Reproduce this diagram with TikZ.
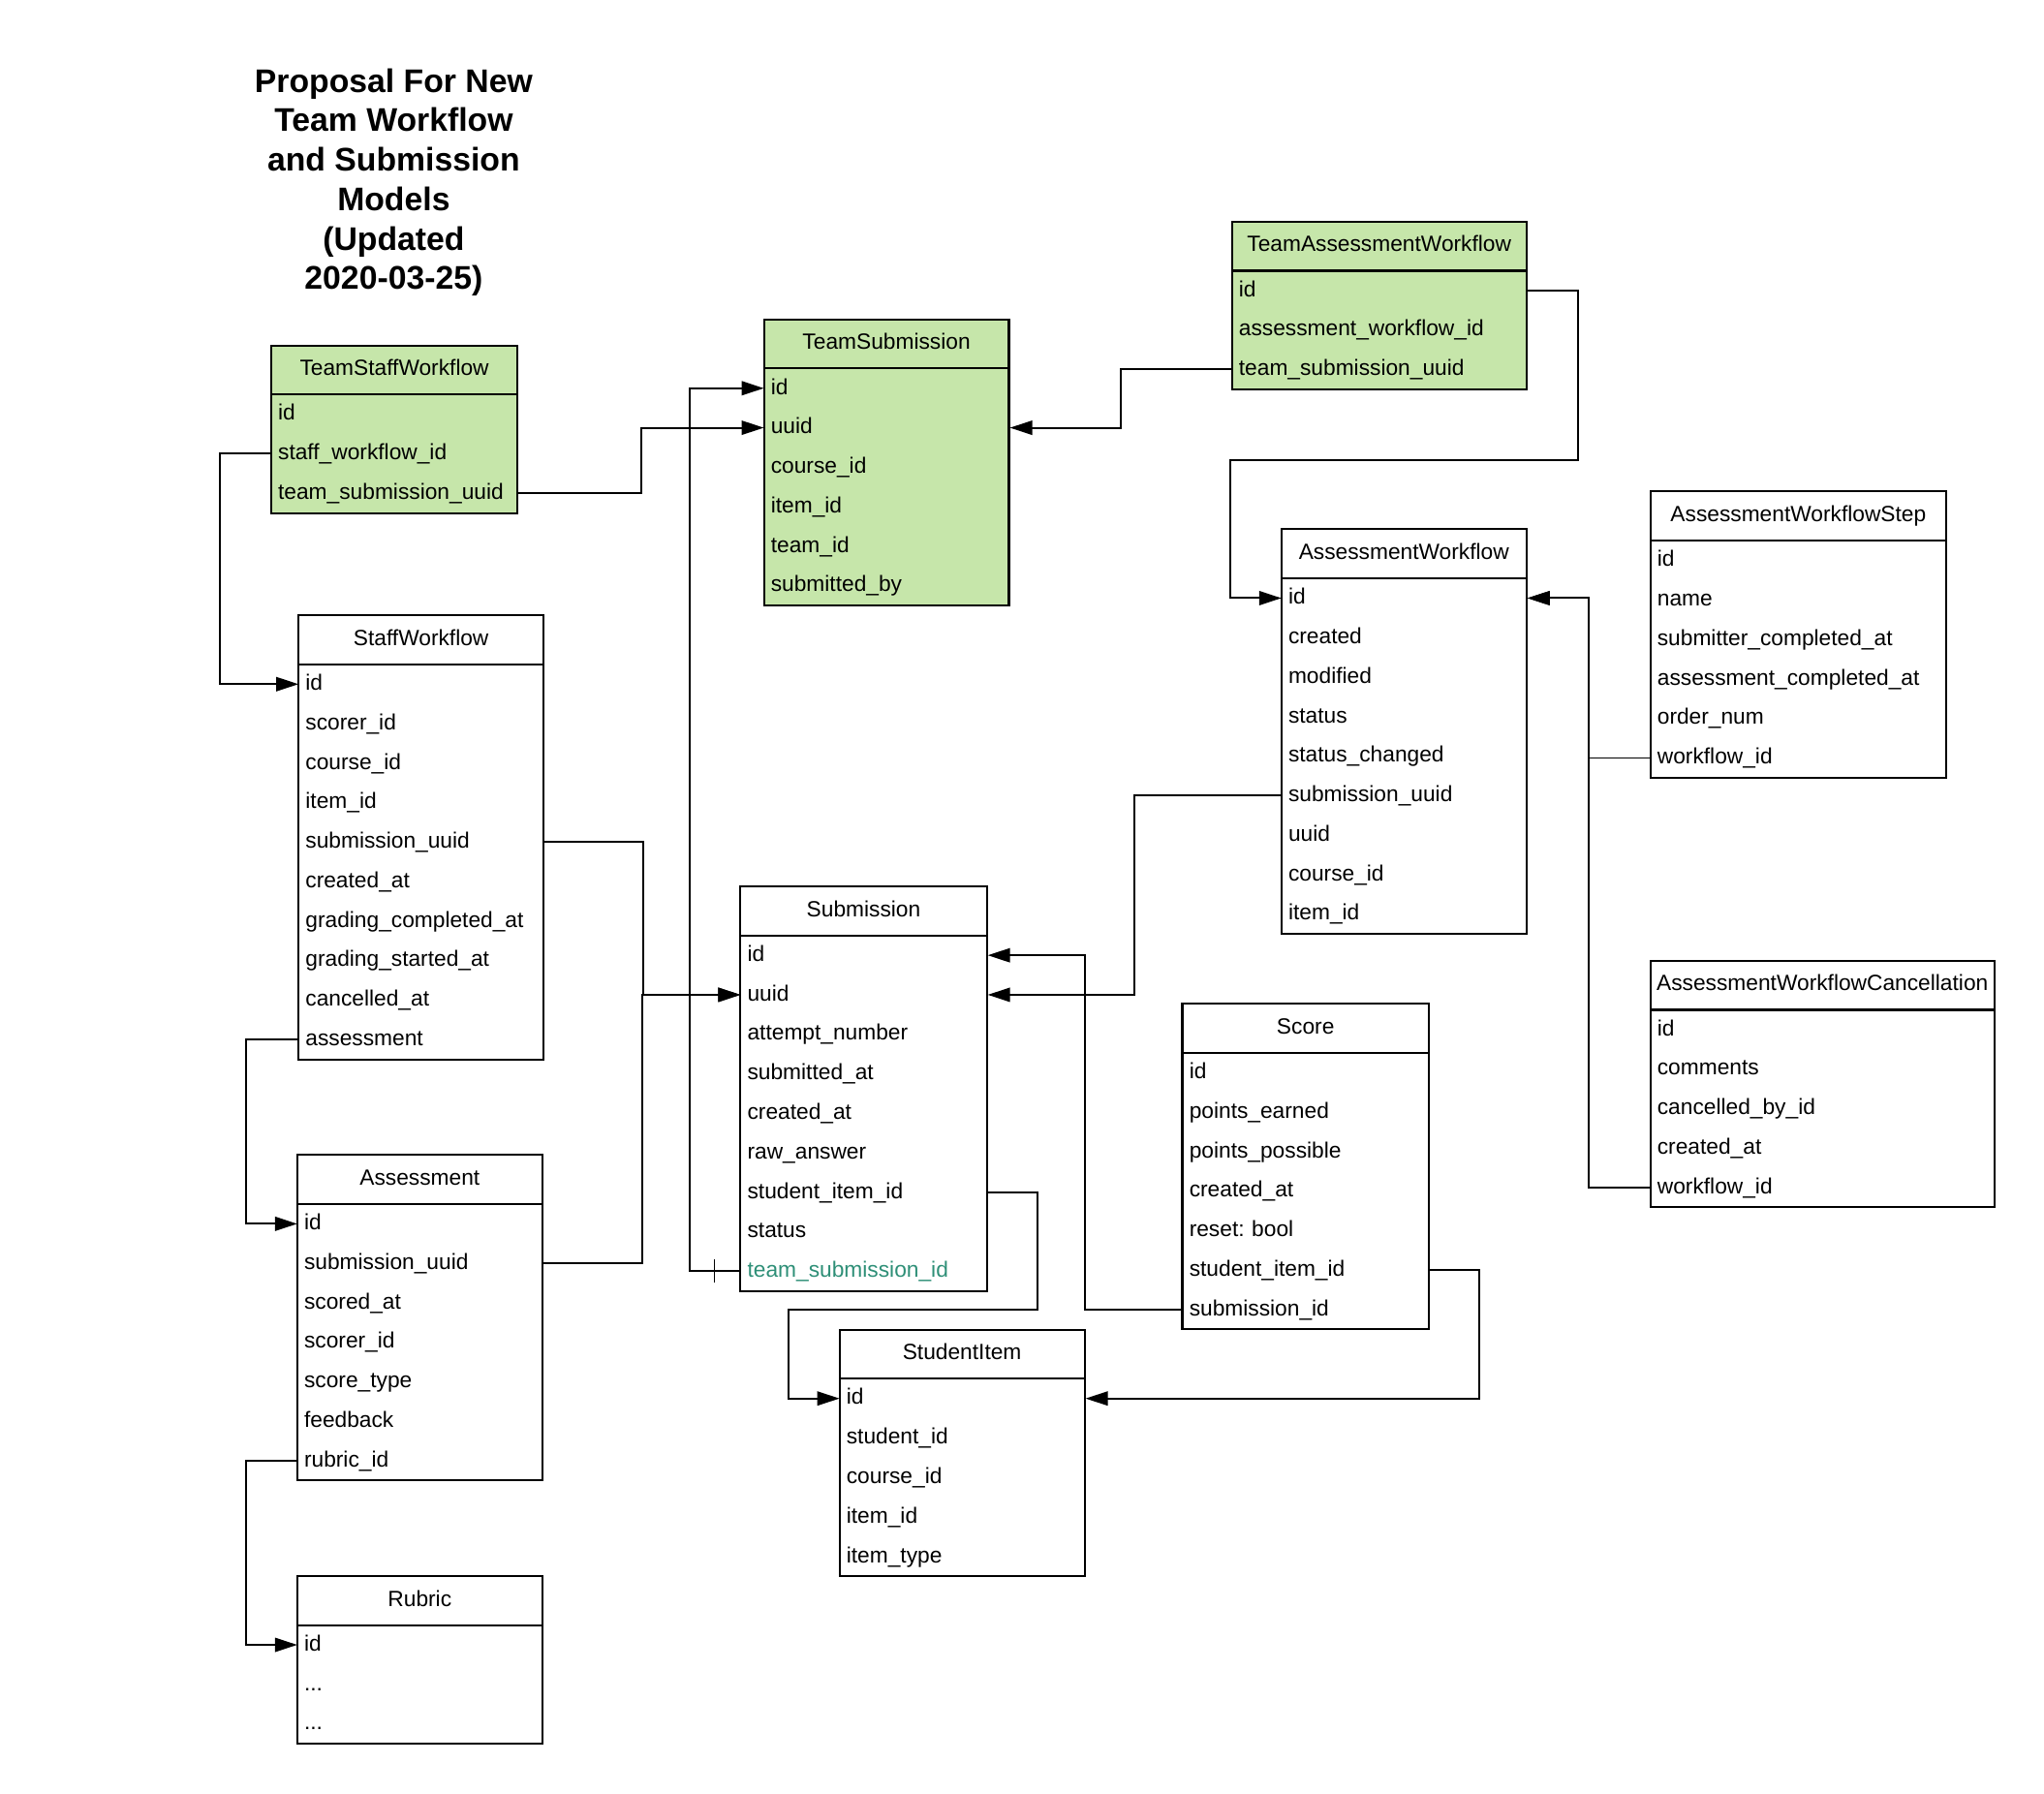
\documentclass[tikz,border=0pt]{standalone}
\usepackage{fontspec}
\setmainfont{Liberation Sans}
\frenchspacing
\usetikzlibrary{arrows.meta,calc}
\definecolor{tgreen}{HTML}{C6E6AA}
\definecolor{tealtxt}{HTML}{2E8F77}
\tikzset{
  boxline/.style={line width=0.85pt},
  hdrtext/.style={font=\fontsize{9.1}{11}\selectfont, inner sep=0pt, text height=0.72em, text depth=0.22em},
  rowtext/.style={font=\fontsize{9.1}{11}\selectfont, align=left, inner xsep=2.69pt, inner ysep=0pt, minimum height=16.31pt, text height=0.72em, text depth=0.22em},
  conn/.style={line width=0.8pt, -{Triangle[length=9.2pt,width=5.8pt]}},
  thinconn/.style={line width=0.5pt, -{Triangle[length=9.2pt,width=5.8pt]}},
  titletext/.style={font=\fontsize{13.5}{16.3}\selectfont\bfseries, align=center, inner sep=0pt},
  tickmark/.style={line width=0.6pt},
}
% #1 name, #2 x, #3 y, #4 width, #5 fill, #6 header, #7 rows, #8 number of rows
\newcommand\erbox[8]{%
  \draw[boxline, fill=#5] (#2,#3) rectangle ++(#4,37.7+#8*30.3);
  \draw[boxline] (#2,#3+37.7) -- ++(#4,0);
  \node[hdrtext] (#1) at (#2+#4/2,#3+18.5) {#6};
  \pgfmathsetlengthmacro\rowtw{(#4-10)*0.5383pt}%
  \foreach \t [count=\i] in {#7} {
    \node[rowtext, text width=\rowtw, anchor=west] (#1-\i) at (#2,#3+37.7+15.15+\i*30.3-30.3) {\t};
  }
}
\begin{document}
\begin{tikzpicture}[x=0.5383pt, y=-0.5383pt]
\fill[white] (0,0) rectangle (1568,1376);
\useasboundingbox (0,0) rectangle (1568,1376);

\node[titletext] (title) at (302,140) {Proposal For New\\Team Workflow\\and Submission\\Models\\(Updated\\2020-03-25)};

\erbox{tsw}{208}{265}{189}{tgreen}{TeamStaffWorkflow}{id,staff\_workflow\_id,team\_submission\_uuid}{3}
\erbox{ts}{586}{245}{188}{tgreen}{TeamSubmission}{id,uuid,course\_id,item\_id,team\_id,submitted\_by}{6}
\erbox{taw}{945}{170}{226}{tgreen}{TeamAssessmentWorkflow}{id,assessment\_workflow\_id,team\_submission\_uuid}{3}
\erbox{aw}{983}{406}{188}{white}{AssessmentWorkflow}{id,created,modified,status,status\_changed,submission\_uuid,uuid,course\_id,item\_id}{9}
\erbox{aws}{1266}{377}{227}{white}{AssessmentWorkflowStep}{id,name,submitter\_completed\_at,assessment\_completed\_at,order\_num,workflow\_id}{6}
\erbox{awc}{1266}{737}{264}{white}{AssessmentWorkflowCancellation}{id,comments,cancelled\_by\_id,created\_at,workflow\_id}{5}
\erbox{sw}{229}{472}{188}{white}{StaffWorkflow}{id,scorer\_id,course\_id,item\_id,submission\_uuid,created\_at,grading\_completed\_at,grading\_started\_at,cancelled\_at,assessment}{10}
\erbox{as}{228}{886}{188}{white}{Assessment}{id,submission\_uuid,scored\_at,scorer\_id,score\_type,feedback,rubric\_id}{7}
\erbox{rb}{228}{1209}{188}{white}{Rubric}{id,{.{}.{}.},{.{}.{}.}}{3}
\erbox{sub}{568}{680}{189}{white}{Submission}{id,uuid,attempt\_number,submitted\_at,created\_at,raw\_answer,student\_item\_id,status,{\color{tealtxt}team\_submission\_id}}{9}
\erbox{sc}{907}{770}{189}{white}{Score}{id,points\_earned,points\_possible,created\_at,reset: bool,student\_item\_id,submission\_id}{7}
\erbox{si}{644}{1020}{188}{white}{StudentItem}{id,student\_id,course\_id,item\_id,item\_type}{5}

% connectors
\draw[conn] (tsw-2.west) -- ++(-39,0) |- (sw-1.west);
\draw[conn] (tsw-3.east) -- ++(94,0) |- (ts-2.west);
\draw[conn] (sub-9.west) -- ++(-39,0) |- (ts-1.west);
\draw[tickmark] ($(sub-9.west)+(-20,-9)$) -- ++(0,18);
\draw[conn] (taw-3.west) -- ++(-85,0) |- (ts-2.east);
\draw[conn] (taw-1.east) -- ++(39,0) |- ($(aw-1.west)+(-39,-106)$) |- (aw-1.west);
\draw[thinconn] (aws-6.west) -- ++(-47,0) |- (aw-1.east);
\draw[conn] (awc-5.west) -- ++(-47,0) |- (aw-1.east);
\draw[conn] (sw-5.east) -- ++(76,0) |- (sub-2.west);
\draw[conn] (as-2.east) -- ++(76,0) |- (sub-2.west);
\draw[conn] (sw-10.west) -- ++(-40,0) |- (as-1.west);
\draw[conn] (as-7.west) -- ++(-39,0) |- (rb-1.west);
\draw[conn] (aw-6.west) -- ++(-113,0) |- (sub-2.east);
\draw[conn] (sc-7.west) -- ++(-75,0) |- (sub-1.east);
\draw[conn] (sub-7.east) -- ++(38,0) |- ($(si-1.west)+(-39,-68)$) |- (si-1.west);
\draw[conn] (sc-6.east) -- ++(38,0) |- (si-1.east);
\end{tikzpicture}
\end{document}
